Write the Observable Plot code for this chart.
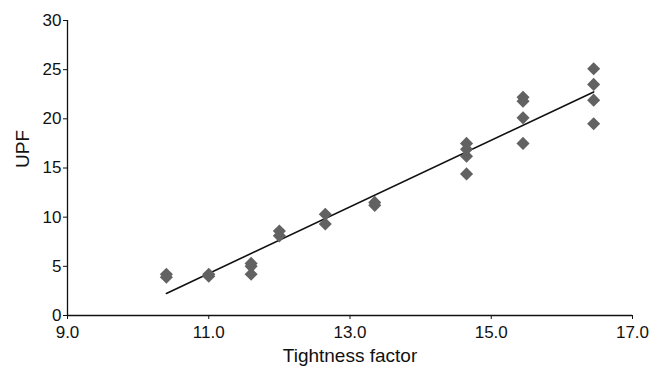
<!DOCTYPE html>
<html>
<head>
<meta charset="utf-8">
<script src="https://cdn.jsdelivr.net/npm/d3@7"></script>
<script src="https://cdn.jsdelivr.net/npm/@observablehq/plot@0.6"></script>
<style>
  html, body { margin: 0; padding: 0; background: #fff; }
  #chart svg { display: block; }
</style>
</head>
<body>
<div id="chart"></div>
<script>
// Tightness factor (x) and UPF (y) readings
const tightness = [10.4, 10.4, 11.0, 11.0, 11.6, 11.6, 11.6, 12.0, 12.0, 12.65, 12.65, 13.35, 13.35,
  14.65, 14.65, 14.65, 14.65, 15.45, 15.45, 15.45, 15.45, 16.45, 16.45, 16.45, 16.45];
const upf = [3.9, 4.2, 4.0, 4.2, 4.2, 5.0, 5.3, 8.1, 8.6, 9.3, 10.3, 11.2, 11.5,
  14.4, 16.2, 16.9, 17.5, 17.5, 20.1, 21.8, 22.2, 19.5, 21.9, 23.5, 25.1];
const xTicks = [9, 11, 13, 15, 17];
const yTicks = [0, 5, 10, 15, 20, 25, 30];

const data = tightness.map((t, i) => ({x: t, y: upf[i]}));

const chart = Plot.plot({
  width: 657,
  height: 375,
  marginLeft: 67,
  marginRight: 25,
  marginTop: 20,
  marginBottom: 60,
  style: {fontFamily: "'Liberation Sans', Arial, sans-serif", fontSize: "17px", color: "#111", background: "#fff"},
  x: {domain: [9, 17], ticks: xTicks, tickFormat: d3.format(".1f"), label: null},
  y: {domain: [0, 30], ticks: yTicks, label: null},
  marks: [
    Plot.axisX({ticks: xTicks, tickFormat: d3.format(".1f"), tickSize: 4, tickPadding: 6, fontSize: 17, label: null}),
    Plot.axisY({ticks: yTicks, tickSize: 4, tickPadding: 2, fontSize: 17, label: null}),
    Plot.ruleY([0], {stroke: "#111", strokeWidth: 1.3}),
    Plot.ruleX([9], {stroke: "#111", strokeWidth: 1.3}),
    Plot.linearRegressionY(data, {x: "x", y: "y", stroke: "#111", strokeWidth: 1.6, ci: 0}),
    Plot.dot(data, {x: "x", y: "y", symbol: "diamond2", r: 5.9, fill: "#626262", stroke: "none"}),
    Plot.text(["Tightness factor"], {frameAnchor: "bottom", dy: 46, fontSize: 19, fill: "#111"}),
    Plot.text(["UPF"], {frameAnchor: "left", dx: -45, rotate: -90, fontSize: 19, fill: "#111"})
  ]
});
document.getElementById("chart").append(chart);
</script>
</body>
</html>
